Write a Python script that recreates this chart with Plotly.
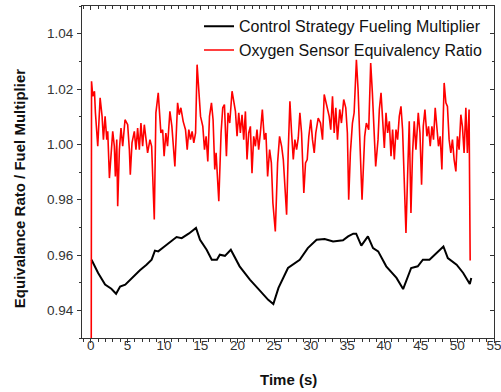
import plotly.graph_objects as go

# Control Strategy Fueling Multiplier (black)
t_ctrl = [0.1, 1.0, 1.95, 2.8, 3.45, 4.0, 4.7, 5.8, 6.7, 7.6, 8.3, 8.75, 9.2, 10.0, 10.6, 11.7, 12.4,
          13.4, 14.35, 14.9, 15.8, 16.5, 17.2, 17.6, 18.3, 19.1, 20.3, 21.7, 22.6, 23.5, 24.2, 24.9,
          25.6, 26.9, 28.5, 29.6, 30.8, 31.9, 33.05, 34.4, 35.1, 35.8, 36.2, 36.9, 37.8, 38.5, 39.2,
          40.3, 41.7, 42.6, 43.05, 43.7, 44.6, 45.3, 46.2, 47.1, 48.1, 48.7, 49.9, 50.8, 51.4, 51.7, 51.9]
v_ctrl = [0.9583, 0.9535, 0.9493, 0.9478, 0.9460, 0.9486, 0.9493, 0.9523, 0.9545, 0.9565, 0.9583,
          0.9616, 0.9613, 0.9630, 0.9643, 0.9665, 0.9661, 0.9678, 0.9698, 0.9655, 0.9619, 0.9583,
          0.9583, 0.9601, 0.9597, 0.9619, 0.9559, 0.9511, 0.9485, 0.9457, 0.9438, 0.9423, 0.9481,
          0.9553, 0.9583, 0.9625, 0.9655, 0.9658, 0.9649, 0.9653, 0.9667, 0.9677, 0.9677, 0.9634,
          0.9667, 0.9625, 0.9613, 0.9559, 0.9517, 0.9477, 0.9511, 0.9553, 0.9559, 0.9583, 0.9583,
          0.9605, 0.9631, 0.9589, 0.9565, 0.9535, 0.9511, 0.9495, 0.9517]

# Oxygen Sensor Equivalency Ratio (red)
t_o2 = [0.05, 0.1, 0.27, 0.5, 0.63, 0.95, 1.27, 1.54, 1.72, 1.95, 2.18, 2.31, 2.54, 2.76, 2.99, 3.21,
        3.35, 3.54, 3.67, 3.9, 4.12, 4.35, 4.67, 5.03, 5.26, 5.39, 5.62, 5.94, 6.16, 6.39, 6.62, 6.84,
        7.07, 7.3, 7.52, 7.75, 8.07, 8.3, 8.66, 8.88, 9.2, 9.56, 9.8, 10.0, 10.24, 10.47, 10.79, 11.06,
        11.47, 11.84, 12.06, 12.29, 12.6, 12.92, 13.15, 13.37, 13.6, 13.82, 14.05, 14.29, 14.5, 14.73,
        14.97, 15.28, 15.51, 15.73, 15.96, 16.19, 16.46, 16.68, 16.91, 17.09, 17.46, 17.77, 18.0,
        18.23, 18.5, 18.72, 18.95, 19.27, 19.5, 19.73, 19.95, 20.18, 20.4, 20.63, 20.86, 21.09, 21.31,
        21.54, 21.77, 21.99, 22.22, 22.45, 22.67, 22.9, 23.13, 23.4, 23.67, 23.89, 24.12, 24.39, 24.63,
        24.84, 25.17, 25.48, 25.75, 26.03, 26.26, 26.48, 26.71, 26.94, 27.16, 27.39, 27.62, 27.84,
        28.07, 28.3, 28.52, 28.75, 29.06, 29.29, 29.52, 29.74, 30.01, 30.24, 30.48, 30.69, 31.02,
        31.33, 31.61, 31.84, 32.06, 32.29, 32.52, 32.73, 32.97, 33.2, 33.42, 33.65, 33.96, 34.19,
        34.5, 34.78, 35.0, 35.18, 35.41, 35.69, 35.92, 36.23, 36.46, 36.68, 37.0, 37.36, 37.59, 37.91,
        38.18, 38.41, 38.64, 38.86, 39.18, 39.36, 39.59, 39.81, 40.04, 40.27, 40.49, 40.72, 40.95,
        41.17, 41.4, 41.63, 41.85, 42.08, 42.31, 42.53, 42.76, 42.99, 43.21, 43.44, 43.67, 43.89,
        44.12, 44.35, 44.67, 44.9, 45.12, 45.35, 45.58, 45.85, 46.07, 46.3, 46.53, 46.75, 46.98,
        47.21, 47.43, 47.66, 47.89, 48.2, 48.44, 48.65, 48.88, 49.11, 49.33, 49.56, 49.8, 50.01,
        50.24, 50.48, 50.69, 50.92, 51.16, 51.37, 51.6, 51.75]
v_o2 = [0.90, 1.0228, 1.0174, 1.0192, 1.0114, 0.9993, 1.0168, 1.0101, 1.0017, 1.0101, 1.0017, 1.0047,
        0.9878, 0.9981, 1.0047, 0.9993, 0.9884, 1.0017, 0.9776, 0.9981, 1.0059, 0.9993, 1.0089, 1.0071,
        0.9981, 0.9890, 1.0005, 1.0047, 0.9981, 1.0059, 0.9981, 1.0077, 0.9993, 1.0071, 1.0017, 0.9969,
        1.0017, 0.9993, 0.9728, 1.0114, 1.0186, 1.0041, 1.0053, 0.9957, 1.0041, 0.9993, 1.0119, 1.0065,
        0.9920, 1.0150, 1.0107, 1.0132, 1.0083, 1.0053, 0.9981, 1.0053, 1.0017, 1.0047, 1.0005, 1.0041,
        1.0288, 1.0210, 1.0101, 1.0065, 0.9981, 1.0029, 0.9938, 1.0101, 1.0150, 1.0089, 0.9909, 0.9969,
        0.9794, 1.0041, 1.0132, 1.0144, 0.9957, 1.0114, 1.0077, 1.0192, 1.0150, 1.0119, 1.0029, 1.0114,
        1.0041, 1.0107, 1.0017, 1.0119, 0.9945, 1.0041, 1.0065, 0.9896, 1.0029, 0.9993, 1.0053, 0.9981,
        1.0041, 1.0126, 1.0017, 1.0041, 0.9884, 0.9981, 0.9933, 0.9788, 0.9685, 0.9933, 1.0029, 0.9993,
        0.9945, 0.9860, 0.9746, 0.9981, 1.0156, 1.0041, 0.9945, 1.0017, 0.9981, 1.0023, 1.0114, 1.0041,
        0.9824, 0.9933, 0.9945, 1.0029, 1.0089, 1.0017, 0.9969, 1.0041, 1.0095, 1.0077, 1.0017, 1.0180,
        1.0150, 1.0132, 1.0101, 1.0053, 1.0174, 1.0041, 1.0132, 1.0017, 1.0126, 1.0077, 1.0162, 1.0132,
        1.0041, 0.9800, 0.9969, 1.0077, 1.0114, 1.0306, 1.0198, 1.0029, 0.9800, 1.0029, 1.0077, 1.0053,
        1.0294, 1.0186, 1.0029, 0.9920, 1.0017, 1.0126, 1.0186, 1.0089, 0.9987, 1.0114, 1.0041, 1.0083,
        0.9957, 1.0053, 0.9945, 1.0053, 1.0017, 1.0101, 1.0137, 1.0053, 0.9860, 0.9680, 0.9884, 1.0083,
        0.9752, 0.9969, 1.0083, 0.9981, 1.0114, 1.0041, 0.9854, 1.0065, 1.0126, 1.0029, 1.0065, 0.9993,
        1.0065, 1.0017, 1.0132, 1.0041, 0.9993, 1.0029, 0.9909, 1.0222, 1.0150, 1.0137, 1.0017, 0.9969,
        1.0017, 0.9945, 0.9902, 1.0029, 0.9981, 1.0107, 1.0065, 0.9969, 1.0132, 0.9969, 1.0126, 0.9580]

x_tickvals = [0, 5, 10, 15, 20, 25, 30, 35, 40, 45, 50, 55]
y_tickvals = [0.94, 0.96, 0.98, 1.00, 1.02, 1.04]
y_ticktext = ["0.94", "0.96", "0.98", "1.00", "1.02", "1.04"]
x_title = "Time (s)"
y_title = "Equivalance Rato / Fuel Multiplier"

XR = [-1.2, 55]
YR = [0.93, 1.05]
FONT = "Liberation Sans, Arial, sans-serif"
AX = "#333333"

fig = go.Figure()
fig.add_trace(go.Scatter(x=t_ctrl, y=v_ctrl, mode="lines", name="Control Strategy Fueling Multiplier",
                         line=dict(color="black", width=2)))
fig.add_trace(go.Scatter(x=t_o2, y=v_o2, mode="lines", name="Oxygen Sensor Equivalency Ratio",
                         line=dict(color="#ff0000", width=1.6)))
# empty traces carrying the extra tick-only axes
fig.add_trace(go.Scatter(x=[None], y=[None], xaxis="x2", yaxis="y2", showlegend=False, hoverinfo="skip"))
fig.add_trace(go.Scatter(x=[None], y=[None], xaxis="x3", yaxis="y", showlegend=False, hoverinfo="skip"))

tick_only = dict(showticklabels=False, showgrid=False, zeroline=False, showline=False, automargin=False)

fig.update_layout(
    width=501, height=392,
    margin=dict(l=82, r=7, t=6, b=54, autoexpand=False),
    paper_bgcolor="white", plot_bgcolor="white",
    font=dict(family=FONT, color="#222", size=13),
    showlegend=True,
    legend=dict(x=0.284, y=0.99, xanchor="left", yanchor="top", bgcolor="rgba(0,0,0,0)",
                font=dict(size=16, color="#111"), tracegroupgap=0),
    # bottom axis: labels only (no ticks so labels sit close to the axis line)
    xaxis=dict(range=XR, tickvals=x_tickvals, ticks="", showline=True, linecolor=AX, linewidth=1,
               mirror=True, showgrid=False, zeroline=False, automargin=False, ticklabelstandoff=-5,
               ticklabeloverflow="allow", tickfont=dict(size=13.5, color=AX)),
    # bottom axis outside ticks
    xaxis3=dict(range=XR, overlaying="x", side="bottom", tickvals=x_tickvals, ticks="outside", ticklen=4,
                tickcolor=AX, **tick_only,
                minor=dict(dtick=1, tick0=0, ticks="outside", ticklen=2.5, tickcolor=AX, showgrid=False)),
    yaxis=dict(range=YR, tickvals=y_tickvals, ticktext=y_ticktext, ticks="outside", ticklen=4, tickwidth=1,
               tickcolor=AX, showline=True, linecolor=AX, linewidth=1, mirror=True, showgrid=False,
               zeroline=False, automargin=False, ticklabelstandoff=1,
               minor=dict(dtick=0.01, tick0=0.93, ticks="outside", ticklen=2.5, tickcolor=AX, showgrid=False),
               tickfont=dict(size=13.5, color=AX)),
    xaxis2=dict(range=XR, overlaying="x", side="top", tickvals=x_tickvals, ticks="inside", ticklen=4,
                tickcolor=AX, **tick_only,
                minor=dict(dtick=1, tick0=0, ticks="inside", ticklen=2.5, tickcolor=AX, showgrid=False)),
    yaxis2=dict(range=YR, overlaying="y", side="right", tickvals=y_tickvals, ticks="inside", ticklen=4,
                tickcolor=AX, **tick_only,
                minor=dict(dtick=0.01, tick0=0.93, ticks="inside", ticklen=2.5, tickcolor=AX, showgrid=False)),
    annotations=[
        dict(text="<b>" + x_title + "</b>", xref="paper", yref="paper", x=0.5, y=-0.1265,
             xanchor="center", yanchor="middle", showarrow=False, font=dict(size=15, color="#111")),
        dict(text="<b>" + y_title + "</b>", xref="paper", yref="paper", x=-0.150, y=0.449,
             xanchor="center", yanchor="middle", textangle=-90, showarrow=False,
             font=dict(size=15, color="#111")),
    ],
)

fig.write_html("out.html", config={"displayModeBar": False},
               post_script="document.body.style.margin='0';document.body.style.overflow='hidden';")
